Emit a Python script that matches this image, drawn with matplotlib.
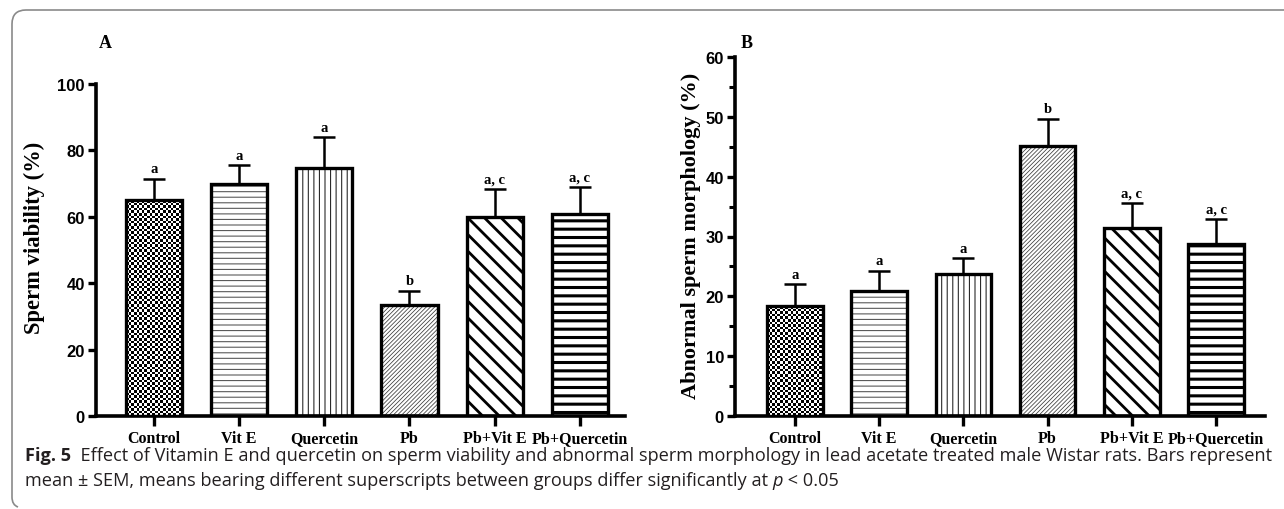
import numpy as np
import matplotlib
matplotlib.use("Agg")
import matplotlib.pyplot as plt
from matplotlib.path import Path
from matplotlib.patches import PathPatch

# ---------------- data ----------------
categories = ["Control", "Vit E", "Quercetin", "Pb", "Pb+Vit E", "Pb+Quercetin"]
viability_mean = [65.0, 70.0, 74.7, 33.5, 60.0, 60.8]
viability_sem = [6.4, 5.5, 9.3, 4.2, 8.4, 8.1]
viability_sig = ["a", "a", "a", "b", "a, c", "a, c"]
abnormal_mean = [18.4, 20.9, 23.8, 45.2, 31.5, 28.8]
abnormal_sem = [3.6, 3.4, 2.6, 4.5, 4.1, 4.2]
abnormal_sig = ["a", "a", "a", "b", "a, c", "a, c"]
viability_ticks = [0, 20, 40, 60, 80, 100]
abnormal_ticks = [0, 10, 20, 30, 40, 50, 60]

W, H = 1284, 510
fig = plt.figure(figsize=(W / 100, H / 100), dpi=100)
fig.patch.set_facecolor("white")

SERIF = "Liberation Serif"
SANS = "Liberation Sans"

# fill styles per group: (hatch, hatch colour, hatch linewidth) ; None -> checker
fills = [None,
         ("---", "#5a5a5a", 0.8),
         ("|||", "#2a2a2a", 0.8),
         ("////////", "#3a3a3a", 0.55),
         ("\\\\", "black", 2.0),
         ("--", "black", 2.2)]


def px_axes(l, r, t, b):
    return fig.add_axes([l / W, 1 - b / H, (r - l) / W, (b - t) / H])


def draw_panel(ax, means, sems, sigs, ticks, xlim, minor):
    n = len(categories)
    x = np.arange(n)
    ax.set_xlim(*xlim)
    ax.set_ylim(ticks[0], ticks[-1])
    ax.errorbar(x, means, yerr=[np.zeros(n), sems], fmt="none", ecolor="black",
                elinewidth=1.8, capsize=8, capthick=1.8, zorder=1)
    width = 0.66
    for i in range(n):
        f = fills[i]
        if f is None:
            bars = ax.bar(x[i], means[i], width=width, color="white",
                          linewidth=0, zorder=2)
            patch = bars[0]
            x0 = x[i] - width / 2
            x1 = x[i] + width / 2
            p0 = ax.transData.transform((x0, 0))
            p1 = ax.transData.transform((x1, means[i]))
            cell = 2.6
            nx = int(np.ceil(abs(p1[0] - p0[0]) / cell))
            ny = int(np.ceil(abs(p1[1] - p0[1]) / cell))
            checker = np.indices((ny, nx)).sum(axis=0) % 2
            xe1 = x0 + nx * cell * (x1 - x0) / abs(p1[0] - p0[0])
            ye1 = ny * cell * means[i] / abs(p1[1] - p0[1])
            im = ax.imshow(checker, cmap="gray", interpolation="nearest",
                           origin="lower", extent=(x0, xe1, 0, ye1),
                           aspect="auto", zorder=3, vmin=0, vmax=1)
            im.set_clip_path(patch)
        else:
            hatch, hc, hlw = f
            with plt.rc_context({"hatch.linewidth": hlw}):
                bars = ax.bar(x[i], means[i], width=width, color="white",
                              edgecolor=hc, hatch=hatch, linewidth=0, zorder=2)
            for p in bars:
                if hasattr(p, "set_hatch_linewidth"):
                    p.set_hatch_linewidth(hlw)
        ax.bar(x[i], means[i], width=width, fill=False, edgecolor="black",
               linewidth=2.4, zorder=4)
        ax.annotate(sigs[i], (x[i], means[i] + sems[i]), xytext=(0, 2.5),
                    textcoords="offset points", ha="center", va="bottom",
                    fontfamily=SERIF, fontweight="bold", fontsize=10.5)
    ax.set_xlim(*xlim)
    ax.set_ylim(ticks[0], ticks[-1])
    ax.set_xticks(x)
    ax.set_xticklabels(categories, fontfamily=SERIF, fontweight="bold",
                       fontsize=11.5, va="baseline")
    ax.set_yticks(ticks)
    ax.set_yticklabels([str(t) for t in ticks], fontfamily=SANS,
                       fontweight="bold", fontsize=12)
    if minor:
        ax.set_yticks([(ticks[k] + ticks[k + 1]) / 2 for k in range(len(ticks) - 1)],
                      minor=True)
        ax.tick_params(axis="y", which="minor", length=4, width=2.2)
    ax.tick_params(axis="y", which="major", length=6, width=2.4, pad=2)
    ax.tick_params(axis="x", which="major", length=7, width=2.4, pad=11.5)
    for s in ("top", "right"):
        ax.spines[s].set_visible(False)
    for s in ("left", "bottom"):
        ax.spines[s].set_linewidth(2.6)
    ax.set_facecolor("none")


axA = px_axes(96, 625, 85, 417)
draw_panel(axA, viability_mean, viability_sem, viability_sig, viability_ticks,
           (-0.68, 5.53), False)
axB = px_axes(735, 1265, 58, 417)
draw_panel(axB, abnormal_mean, abnormal_sem, abnormal_sig, abnormal_ticks,
           (-0.71, 5.58), True)

# y labels
fig.text(34 / W, 1 - 238 / H, "Sperm viability (%)", rotation=90, ha="center",
         va="center", fontfamily=SERIF, fontweight="bold", fontsize=16.3)
fig.text(691 / W, 1 - 236 / H, "Abnormal sperm morphology (%)", rotation=90,
         ha="center", va="center", fontfamily=SERIF, fontweight="bold",
         fontsize=16.0)
# panel letters
fig.text(105 / W, 1 - 43 / H, "A", ha="center", va="center", fontfamily=SERIF,
         fontweight="bold", fontsize=13)
fig.text(747 / W, 1 - 43 / H, "B", ha="center", va="center", fontfamily=SERIF,
         fontweight="bold", fontsize=13)

# border (top line + left line, rounded corner)
r = 14
verts = [(W + 2, 11), (12 + r, 11), (12, 11), (12, 11 + r), (12, 498),
         (12, 506), (18, 508)]
codes = [Path.MOVETO, Path.LINETO, Path.CURVE3, Path.CURVE3, Path.LINETO,
         Path.CURVE3, Path.CURVE3]
verts_f = [(vx / W, 1 - vy / H) for vx, vy in verts]
fig.add_artist(PathPatch(Path(verts_f, codes), transform=fig.transFigure,
                         fill=False, edgecolor="#8a8a8a", linewidth=1.2))

# caption
CAP = "Open Sans"
cap_color = "#231f20"
line1 = [("Fig. 5", dict(fontweight="bold")),
         ("  Effect of Vitamin E and quercetin on sperm viability and abnormal sperm "
          "morphology in lead acetate treated male Wistar rats. Bars represent", {})]
line2 = [("mean ± SEM, means bearing different superscripts between groups differ "
          "significantly at ", {}),
         ("p", dict(fontstyle="italic")),
         (" < 0.05", {})]

x_start, x_end = 25, 1272
y1, y2 = 461, 486
size0 = 11.0
texts1 = [fig.text(x_start / W, 1 - y1 / H, s, fontfamily=CAP, fontsize=size0,
                   color=cap_color, va="baseline", ha="left", **kw)
          for s, kw in line1]
texts2 = [fig.text(x_start / W, 1 - y2 / H, s, fontfamily=CAP, fontsize=size0,
                   color=cap_color, va="baseline", ha="left", **kw)
          for s, kw in line2]
fig.canvas.draw()
renderer = fig.canvas.get_renderer()
total = sum(t.get_window_extent(renderer).width for t in texts1)
size = size0 * (x_end - x_start) / total
for t in texts1 + texts2:
    t.set_fontsize(size)
fig.canvas.draw()


def layout(texts):
    xp = x_start
    for t in texts:
        t.set_x(xp / W)
        xp += t.get_window_extent(renderer).width


layout(texts1)
layout(texts2)

fig.savefig("out.png", dpi=100, facecolor="white")
